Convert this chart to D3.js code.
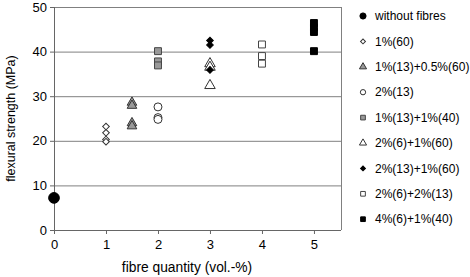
<!DOCTYPE html>
<html>
<head>
<meta charset="utf-8">
<script src="https://cdn.jsdelivr.net/npm/d3@7"></script>
<style>
  body { margin: 0; background: #fff; }
  svg { font-family: "Liberation Sans", Arial, sans-serif; }
</style>
</head>
<body>
<div id="chart"></div>
<script>
// series names (legend order)
const seriesNames = ["without fibres", "1%(60)", "1%(13)+0.5%(60)", "2%(13)", "1%(13)+1%(40)",
  "2%(6)+1%(60)", "2%(13)+1%(60)", "2%(6)+2%(13)", "4%(6)+1%(40)"];
// x position (fibre quantity) per series
const seriesX = [0, 1, 1.5, 2, 2, 3, 3, 4, 5];
// flexural strength values per series
const seriesValues = [
  [7.2],
  [23.2, 21.8, 20.3, 19.8],
  [28.6, 27.9, 24, 23.3],
  [27.6, 25.2, 24.8],
  [40.1, 37.8, 36.9],
  [37.3, 36.5, 32.4],
  [42.5, 41.5, 35.9],
  [41.6, 39, 37.3],
  [46.4, 45.4, 44.4, 40.1]
];
const xTicks = [0, 1, 2, 3, 4, 5];
const yTicks = [0, 10, 20, 30, 40, 50];

// marker style per series (rot = rotate square into a diamond)
const markers = [
  {type: d3.symbolCircle, fill: "#000", stroke: "#000", size: 90, rot: 0},
  {type: d3.symbolSquare, fill: "#fff", stroke: "#333", size: 22, rot: 45},
  {type: d3.symbolTriangle, fill: "#999", stroke: "#333", size: 40, rot: 0},
  {type: d3.symbolCircle, fill: "#fff", stroke: "#333", size: 50, rot: 0},
  {type: d3.symbolSquare, fill: "#999", stroke: "#444", size: 48, rot: 0},
  {type: d3.symbolTriangle, fill: "#fff", stroke: "#333", size: 48, rot: 0},
  {type: d3.symbolSquare, fill: "#000", stroke: "#000", size: 22, rot: 45},
  {type: d3.symbolSquare, fill: "#fff", stroke: "#444", size: 48, rot: 0},
  {type: d3.symbolSquare, fill: "#000", stroke: "#000", size: 48, rot: 0}
];

const width = 470, height = 277;
const margin = {top: 7, left: 54, right: 129, bottom: 47};
const innerW = width - margin.left - margin.right;
const innerH = height - margin.top - margin.bottom;

const svg = d3.select("#chart").append("svg")
  .attr("width", width).attr("height", height);

const g = svg.append("g").attr("transform", `translate(${margin.left},${margin.top})`);

const x = d3.scaleLinear().domain([0, 5.52]).range([0, innerW]);
const y = d3.scaleLinear().domain([0, 50]).range([innerH, 0]);

// gridlines
g.selectAll("line.grid")
  .data(yTicks.filter(d => d > 0))
  .join("line")
    .attr("class", "grid")
    .attr("x1", 0).attr("x2", innerW)
    .attr("y1", d => y(d) + 0.5).attr("y2", d => y(d) + 0.5)
    .attr("stroke", "#808080").attr("stroke-width", 1);

// right border
g.append("line")
  .attr("x1", innerW + 0.5).attr("x2", innerW + 0.5)
  .attr("y1", 0).attr("y2", innerH)
  .attr("stroke", "#808080");

// axes
const xAxis = g.append("g")
  .attr("transform", `translate(0,${innerH})`)
  .call(d3.axisBottom(x).tickValues(xTicks).tickSize(4).tickPadding(6).tickFormat(d3.format("d")));
xAxis.select(".domain").attr("stroke", "#666").attr("d", `M0.5,0.5H${innerW}`);
xAxis.selectAll(".tick line").attr("stroke", "#666");
xAxis.selectAll("text").attr("font-size", 13).attr("fill", "#000");

const yAxis = g.append("g")
  .call(d3.axisLeft(y).tickValues(yTicks).tickSize(4).tickPadding(3));
yAxis.select(".domain").attr("stroke", "#666").attr("d", `M0.5,0V${innerH + 0.5}`);
yAxis.selectAll(".tick line").attr("stroke", "#666");
yAxis.selectAll("text").attr("font-size", 13).attr("fill", "#000");

// points
const points = seriesValues.flatMap((vals, i) => vals.map(v => ({s: i, x: seriesX[i], v})));
g.selectAll("path.pt")
  .data(points)
  .join("path")
    .attr("class", "pt")
    .attr("transform", d => `translate(${x(d.x)},${y(d.v)}) rotate(${markers[d.s].rot})`)
    .attr("d", d => d3.symbol(markers[d.s].type, markers[d.s].size)())
    .attr("fill", d => markers[d.s].fill)
    .attr("stroke", d => markers[d.s].stroke)
    .attr("stroke-width", 1);

// axis titles
svg.append("text")
  .attr("x", 187)
  .attr("y", 272)
  .attr("text-anchor", "middle")
  .attr("font-size", 13.8)
  .text("fibre quantity (vol.-%)");

svg.append("text")
  .attr("transform", `translate(15,${margin.top + innerH / 2}) rotate(-90)`)
  .attr("text-anchor", "middle")
  .attr("font-size", 12.5)
  .text("flexural strength (MPa)");

// legend
const legend = svg.append("g").attr("transform", "translate(363,16)");
const rows = legend.selectAll("g")
  .data(seriesNames)
  .join("g")
    .attr("transform", (d, i) => `translate(0,${i * 25.4})`);
rows.append("path")
  .attr("transform", (d, i) => `rotate(${markers[i].rot})`)
  .attr("d", (d, i) => d3.symbol(markers[i].type, i === 0 ? 30 : (markers[i].rot ? 12 : 22))())
  .attr("fill", (d, i) => markers[i].fill)
  .attr("stroke", (d, i) => markers[i].stroke);
rows.append("text")
  .attr("x", 12)
  .attr("dy", "0.35em")
  .attr("font-size", 12)
  .text(d => d);
</script>
</body>
</html>
